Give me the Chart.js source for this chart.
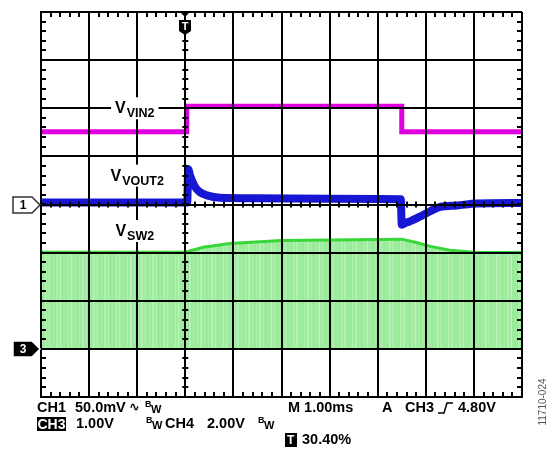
<!DOCTYPE html>
<html>
<head>
<meta charset="utf-8">
<title>VIN2 step response</title>
<script src="https://cdn.jsdelivr.net/npm/chart.js@4.4.1/dist/chart.umd.min.js"></script>
<style>
  html, body { margin: 0; padding: 0; background: #fff; }
  #wrap { width: 550px; height: 451px; }
</style>
</head>
<body>
<div id="wrap"><canvas id="scope" width="550" height="451"></canvas></div>
<script>
/* ---- Trace data: time in ms (trigger = 0), level in screen divisions (centre = 0) ---- */
const vinTime  = [-3, 0.03, 0.03, 4.5, 4.5, 7];
const vinLevel = [1.51, 1.51, 2.04, 2.04, 1.51, 1.51];

const voutTime  = [-3, 0.04, 0.06, 0.10, 0.20, 0.30, 0.45, 0.72, 1.5, 3.0, 4.48, 4.50, 4.58, 4.67, 4.88, 5.09, 5.30, 5.65, 6.06, 7];
const voutLevel = [0.04, 0.04, 0.73, 0.60, 0.37, 0.26, 0.19, 0.14, 0.13, 0.12, 0.11, -0.42, -0.38, -0.35, -0.25, -0.14, -0.05, -0.02, 0.02, 0.03];

const swTime  = [-3, 0.0, 0.37, 0.93, 2.0, 3.0, 4.5, 4.8, 5.1, 5.5, 6.0, 7];
const swTop   = [-0.99, -0.99, -0.89, -0.81, -0.75, -0.74, -0.72, -0.79, -0.87, -0.95, -0.99, -1.0];
const swBase  = -3.0;   // lower edge of the switching band

/* ---- Axis layout ---- */
const timeMin = -3, timeMax = 7;     // 10 divisions, 1.00 ms/div
const divMin = -4, divMax = 4;       // 8 divisions
const minorStep = 0.2;

const traceLabels = [
  { main: "V", sub: "VIN2",  t: -1.05, level: 2.0 },
  { main: "V", sub: "VOUT2", t: -1.0,  level: 0.6 },
  { main: "V", sub: "SW2",   t: -1.05, level: -0.55 },
];

const toXY = (xs, ys) => xs.map((x, i) => ({ x, y: ys[i] }));
const FONT = '"Liberation Sans", Arial, sans-serif';

/* ---- Green switching band with light vertical streaks ---- */
const switchStreaks = {
  id: "switchStreaks",
  beforeDatasetsDraw(chart) {
    const { ctx, chartArea: a, scales: { y } } = chart;
    const pts = chart.getDatasetMeta(2).data;
    const yb = y.getPixelForValue(swBase);
    ctx.save();
    ctx.beginPath();
    ctx.moveTo(pts[0].x, yb);
    pts.forEach((pt) => ctx.lineTo(pt.x, pt.y));
    ctx.lineTo(pts[pts.length - 1].x, yb);
    ctx.closePath();
    ctx.clip();
    ctx.fillStyle = "rgb(150,234,150)";
    ctx.fillRect(a.left, a.top, a.width, a.height);
    for (let px = Math.floor(a.left); px < a.right; px++) {
      const k = (Math.sin(px * 1.7) * 0.6 + Math.sin(px * 0.53 + 2) * 0.4) / 2 + 0.5;
      ctx.fillStyle = `rgba(230,252,230,${(0.5 * k * k).toFixed(2)})`;
      ctx.fillRect(px, a.top, 1, a.height);
    }
    ctx.restore();
  },
};

/* ---- Scope decorations: minor ticks, markers, labels, readout ---- */
const scopeDecor = {
  id: "scopeDecor",
  afterDraw(chart) {
    const { ctx, chartArea: a, scales: { x, y } } = chart;
    ctx.save();

    // minor ticks
    ctx.strokeStyle = "#000";
    ctx.lineWidth = 2;
    ctx.beginPath();
    const x0 = x.getPixelForValue(0), y0 = y.getPixelForValue(0);
    for (let t = timeMin; t <= timeMax + 1e-9; t += minorStep) {
      const px = Math.round(x.getPixelForValue(t));
      ctx.moveTo(px, a.top); ctx.lineTo(px, a.top + 5);
      ctx.moveTo(px, a.bottom); ctx.lineTo(px, a.bottom - 5);
      ctx.moveTo(px, y0 - 3); ctx.lineTo(px, y0 + 3);
    }
    for (let v = divMin; v <= divMax + 1e-9; v += minorStep) {
      const py = Math.round(y.getPixelForValue(v));
      ctx.moveTo(a.left, py); ctx.lineTo(a.left + 5, py);
      ctx.moveTo(a.right, py); ctx.lineTo(a.right - 5, py);
      ctx.moveTo(x0 - 3, py); ctx.lineTo(x0 + 3, py);
    }
    ctx.stroke();

    // trace labels with white backing
    traceLabels.forEach((l) => {
      const px = x.getPixelForValue(l.t), py = y.getPixelForValue(l.level);
      ctx.font = `bold 16px ${FONT}`;
      const wMain = ctx.measureText(l.main).width;
      ctx.font = `bold 12.5px ${FONT}`;
      const wSub = ctx.measureText(l.sub).width;
      const w = wMain + wSub + 1;
      const left = px - w / 2;
      ctx.fillStyle = "#fff";
      ctx.fillRect(left - 4, py - 11, w + 8, 22);
      ctx.fillStyle = "#000";
      ctx.textBaseline = "alphabetic";
      ctx.textAlign = "left";
      ctx.font = `bold 16px ${FONT}`;
      ctx.fillText(l.main, left, py + 5);
      ctx.font = `bold 12.5px ${FONT}`;
      ctx.fillText(l.sub, left + wMain + 1, py + 9);
    });

    // channel markers on the left
    const marker = (py, text, dark) => {
      ctx.beginPath();
      ctx.moveTo(13, py - 8); ctx.lineTo(32, py - 8); ctx.lineTo(40, py);
      ctx.lineTo(32, py + 8); ctx.lineTo(13, py + 8); ctx.closePath();
      ctx.fillStyle = dark ? "#000" : "#fff";
      ctx.fill();
      ctx.lineWidth = 1.5;
      ctx.strokeStyle = dark ? "#fff" : "#333";
      ctx.stroke();
      ctx.fillStyle = dark ? "#fff" : "#000";
      ctx.font = `bold 12px ${FONT}`;
      ctx.textAlign = "center";
      ctx.textBaseline = "middle";
      ctx.fillText(text, 23, py + 1);
    };
    marker(Math.round(y0), "1", false);
    marker(Math.round(y.getPixelForValue(swBase)), "3", true);

    // trigger marker at top
    const tx = Math.round(x0);
    ctx.fillStyle = "#000";
    ctx.beginPath();
    ctx.moveTo(tx - 4, a.top + 1); ctx.lineTo(tx + 4, a.top + 1); ctx.lineTo(tx, a.top + 5);
    ctx.closePath(); ctx.fill();
    ctx.beginPath();
    ctx.moveTo(tx - 6, a.top + 8); ctx.lineTo(tx + 6, a.top + 8);
    ctx.lineTo(tx + 6, a.top + 19); ctx.lineTo(tx, a.top + 23); ctx.lineTo(tx - 6, a.top + 19);
    ctx.closePath(); ctx.fill();
    ctx.fillStyle = "#fff";
    ctx.font = `bold 11px ${FONT}`;
    ctx.textAlign = "center"; ctx.textBaseline = "middle";
    ctx.fillText("T", tx, a.top + 15);

    // readout under the graticule
    ctx.textAlign = "left"; ctx.textBaseline = "middle";
    const txt = (s, px, py, size, color) => {
      ctx.font = `bold ${size}px ${FONT}`;
      ctx.fillStyle = color || "#000";
      ctx.fillText(s, px, py);
      return ctx.measureText(s).width;
    };
    const bw = (px, py) => {
      txt("B", px, py - 3, 9);
      txt("W", px + 6, py + 2, 11);
    };
    const r1 = 408, r2 = 424, r3 = 440;
    txt("CH1", 37, r1, 14.5);
    txt("50.0mV", 75, r1, 14.5);
    ctx.font = `bold 13px "DejaVu Sans", sans-serif`;
    ctx.fillText("\u223F", 129, r1);
    bw(145, r1);
    txt("M 1.00ms", 288, r1, 14.5);
    txt("A", 382, r1, 14.5);
    txt("CH3", 405, r1, 14.5);
    ctx.strokeStyle = "#000"; ctx.lineWidth = 1.5;
    ctx.beginPath();
    ctx.moveTo(438, r1 + 5); ctx.lineTo(444, r1 + 5); ctx.lineTo(447, r1 - 5); ctx.lineTo(453, r1 - 5);
    ctx.stroke();
    txt("4.80V", 458, r1, 14.5);

    ctx.fillStyle = "#000";
    ctx.fillRect(37, r2 - 7, 29, 14);
    txt("CH3", 37.5, r2 + 1, 14, "#fff");
    txt("1.00V", 76, r2, 14.5);
    bw(146, r2);
    txt("CH4", 165, r2, 14.5);
    txt("2.00V", 207, r2, 14.5);
    bw(258, r2);

    ctx.fillStyle = "#000";
    ctx.fillRect(285, r3 - 7, 12, 14);
    txt("T", 287, r3 + 1, 12, "#fff");
    txt("30.40%", 302, r3, 14.5);

    // figure id
    ctx.translate(543, 402);
    ctx.rotate(-Math.PI / 2);
    ctx.textAlign = "center";
    ctx.font = `10px ${FONT}`;
    ctx.fillStyle = "#555";
    ctx.fillText("11710-024", 0, 0);

    ctx.restore();
  },
};

const canvas = document.getElementById("scope");

const axisStyle = (min, max) => ({
  type: "linear",
  min, max,
  z: 1,
  ticks: { display: false, stepSize: 1 },
  grid: { color: "#000", lineWidth: 2, drawTicks: false, z: 1 },
  border: { color: "#000", width: 2, z: 1 },
});

new Chart(canvas, {
  type: "line",
  data: {
    datasets: [
      {
        label: "VIN2",
        data: toXY(vinTime, vinLevel),
        borderColor: "rgb(222,0,222)",
        borderWidth: 5,
        tension: 0,
      },
      {
        label: "VOUT2",
        data: toXY(voutTime, voutLevel),
        borderColor: "rgb(22,22,212)",
        borderWidth: 8,
        cubicInterpolationMode: "monotone",
      },
      {
        label: "SW2",
        data: toXY(swTime, swTop),
        borderColor: "rgb(55,215,55)",
        borderWidth: 3,
        tension: 0,
        fill: false,
      },
    ],
  },
  options: {
    responsive: false,
    devicePixelRatio: 1,
    animation: false,
    events: [],
    layout: { padding: { left: 41, top: 12, right: 28, bottom: 54 } },
    elements: { point: { radius: 0 } },
    plugins: { legend: { display: false }, tooltip: { enabled: false } },
    scales: {
      x: axisStyle(timeMin, timeMax),
      y: axisStyle(divMin, divMax),
    },
  },
  plugins: [switchStreaks, scopeDecor],
});
</script>
</body>
</html>
